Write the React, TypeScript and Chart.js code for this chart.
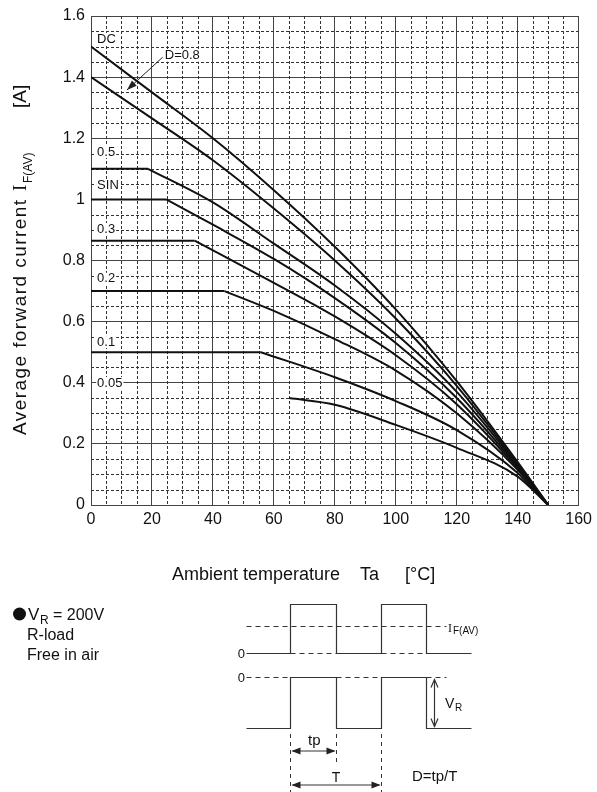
import React, { useEffect, useRef } from 'react';
import { Chart, registerables } from 'chart.js';

Chart.register(...registerables);

// ---- axis tick labels ----
const xTickLabels = ['0', '20', '40', '60', '80', '100', '120', '140', '160'];
const yTickLabels = ['0', '0.2', '0.4', '0.6', '0.8', '1', '1.2', '1.4', '1.6'];

// ---- series (Ta in °C, IF(AV) in A) ----
const tDC = [0, 20, 40, 60, 80, 100, 120, 140, 150];
const iDC = [1.5, 1.35, 1.2, 1.03, 0.845, 0.64, 0.405, 0.14, 0];

const tD08 = [0, 20, 40, 60, 80, 100, 120, 140, 150];
const iD08 = [1.4, 1.265, 1.128, 0.97, 0.8, 0.61, 0.39, 0.135, 0];

const tD05 = [0, 18.7, 40, 60, 80, 100, 120, 140, 150];
const iD05 = [1.1, 1.1, 0.99, 0.855, 0.718, 0.56, 0.37, 0.13, 0];

const tSIN = [0, 24.7, 40, 60, 80, 100, 120, 140, 150];
const iSIN = [1.0, 1.0, 0.917, 0.805, 0.677, 0.53, 0.35, 0.125, 0];

const tD03 = [0, 34, 60, 80, 100, 120, 140, 150];
const iD03 = [0.865, 0.865, 0.727, 0.617, 0.49, 0.33, 0.12, 0];

const tD02 = [0, 43.8, 60, 80, 100, 120, 140, 150];
const iD02 = [0.7, 0.7, 0.635, 0.543, 0.44, 0.3, 0.115, 0];

const tD01 = [0, 55.7, 80, 100, 120, 140, 150];
const iD01 = [0.5, 0.5, 0.418, 0.34, 0.245, 0.105, 0];

const tD005 = [65, 80, 100, 120, 140, 150];
const iD005 = [0.35, 0.328, 0.262, 0.187, 0.093, 0];

// number of leading points forming the flat (derating-free) part of each curve
const flatDC = 0, flatD08 = 0, flatD05 = 2, flatSIN = 2, flatD03 = 2, flatD02 = 2, flatD01 = 2, flatD005 = 0;

// ---- curve labels (text, Ta, IF) ----
const labelTexts = ['DC', 'D=0.8', '0.5', 'SIN', '0.3', '0.2', '0.1', '0.05'];
const labelT = [2, 24.2, 2, 2, 2, 2, 2, 2];
const labelI = [1.525, 1.47, 1.155, 1.047, 0.903, 0.74, 0.533, 0.399];

// arrow from "D=0.8" label to its curve
const arrowFrom = [23.5, 1.465];
const arrowTo = [11.8, 1.358];

const SANS = '"Liberation Sans", Arial, Helvetica, sans-serif';
const SERIF = '"Liberation Serif", "Times New Roman", serif';

const zip = (t: number[], i: number[]) => t.map((x, k) => ({ x, y: i[k] }));

function fillArrowHead(ctx: CanvasRenderingContext2D, x: number, y: number, ang: number, len: number, half: number) {
  ctx.beginPath();
  ctx.moveTo(x, y);
  ctx.lineTo(x - len * Math.cos(ang) + half * Math.sin(ang), y - len * Math.sin(ang) - half * Math.cos(ang));
  ctx.lineTo(x - len * Math.cos(ang) - half * Math.sin(ang), y - len * Math.sin(ang) + half * Math.cos(ang));
  ctx.closePath();
  ctx.fill();
}

const minorGrid = {
  id: 'minorGrid',
  beforeDatasetsDraw(chart: any) {
    const { ctx, chartArea: a, scales } = chart;
    const x = scales.x, y = scales.y;
    ctx.save();
    ctx.strokeStyle = '#333';
    ctx.lineWidth = 1;
    ctx.setLineDash([3, 2]);
    for (let v = 5; v < 160; v += 5) {
      if (v % 20 === 0) continue;
      const px = Math.round(x.getPixelForValue(v)) + 0.5;
      ctx.beginPath();
      ctx.moveTo(px, a.top);
      ctx.lineTo(px, a.bottom);
      ctx.stroke();
    }
    for (let k = 1; k < 32; k++) {
      if (k % 4 === 0) continue;
      const py = Math.round(y.getPixelForValue(k * 0.05)) + 0.5;
      ctx.beginPath();
      ctx.moveTo(a.left, py);
      ctx.lineTo(a.right, py);
      ctx.stroke();
    }
    ctx.restore();
  },
};

const curveLabels = {
  id: 'curveLabels',
  afterDatasetsDraw(chart: any) {
    const { ctx, scales } = chart;
    const x = scales.x, y = scales.y;
    ctx.save();
    ctx.font = `13px ${SANS}`;
    ctx.textBaseline = 'middle';
    ctx.textAlign = 'left';
    labelTexts.forEach((txt, k) => {
      const px = x.getPixelForValue(labelT[k]);
      const py = y.getPixelForValue(labelI[k]);
      const w = ctx.measureText(txt).width;
      ctx.fillStyle = '#fff';
      ctx.fillRect(px - 1, py - 6, w + 2, 12);
      ctx.fillStyle = '#111';
      ctx.fillText(txt, px, py);
    });
    const ax0 = x.getPixelForValue(arrowFrom[0]);
    const ay0 = y.getPixelForValue(arrowFrom[1]);
    const ax1 = x.getPixelForValue(arrowTo[0]);
    const ay1 = y.getPixelForValue(arrowTo[1]);
    ctx.strokeStyle = '#222';
    ctx.fillStyle = '#222';
    ctx.lineWidth = 1;
    ctx.beginPath();
    ctx.moveTo(ax0, ay0);
    ctx.lineTo(ax1, ay1);
    ctx.stroke();
    fillArrowHead(ctx, ax1, ay1, Math.atan2(ay1 - ay0, ax1 - ax0), 10, 3.5);
    ctx.restore();
  },
};

const annotations = {
  id: 'annotations',
  afterDraw(chart: any) {
    const ctx: CanvasRenderingContext2D = chart.ctx;
    ctx.save();
    ctx.fillStyle = '#111';
    ctx.textAlign = 'left';
    ctx.textBaseline = 'alphabetic';

    // ---- y-axis title (rotated) ----
    ctx.save();
    ctx.translate(26, 435);
    ctx.rotate(-Math.PI / 2);
    ctx.font = `19px ${SANS}`;
    const main = 'Average forward current';
    const w = ctx.measureText(main).width;
    const anyCtx = ctx as any;
    if ('letterSpacing' in anyCtx) anyCtx.letterSpacing = `${Math.max(0, (235 - w) / (main.length - 1)).toFixed(2)}px`;
    ctx.fillText(main, 0, 0);
    if ('letterSpacing' in anyCtx) anyCtx.letterSpacing = '0px';
    ctx.font = `19px ${SERIF}`;
    ctx.fillText('I', 244, 0);
    ctx.font = `12px ${SANS}`;
    ctx.fillText('F(AV)', 252, 6);
    ctx.font = `19px ${SANS}`;
    ctx.fillText('[A]', 327, 0);
    ctx.restore();

    // ---- x-axis title ----
    ctx.font = `18px ${SANS}`;
    ctx.fillText('Ambient temperature', 172, 580);
    ctx.fillText('Ta', 360, 580);
    ctx.fillText('[°C]', 405, 580);

    // ---- conditions ----
    ctx.beginPath();
    ctx.arc(19.5, 614, 6.5, 0, Math.PI * 2);
    ctx.fill();
    ctx.font = `17px ${SANS}`;
    ctx.fillText('V', 28, 620);
    ctx.font = `12px ${SANS}`;
    ctx.fillText('R', 40, 624);
    ctx.font = `16px ${SANS}`;
    ctx.fillText('= 200V', 53, 620);
    ctx.fillText('R-load', 27, 640);
    ctx.fillText('Free in air', 27, 660);

    // ---- waveform diagram ----
    const x0 = 246.5, x1 = 290.5, x2 = 336.5, x3 = 381.5, x4 = 426.5, x5 = 471.5, xd = 446.5;
    const iHigh = 604.5, iBase = 653.5, iAvg = 626.5, vZero = 677.5, vLow = 728.5;
    ctx.strokeStyle = '#333';
    ctx.lineWidth = 1.2;
    const poly = (pts: number[][]) => {
      ctx.beginPath();
      ctx.moveTo(pts[0][0], pts[0][1]);
      for (let k = 1; k < pts.length; k++) ctx.lineTo(pts[k][0], pts[k][1]);
      ctx.stroke();
    };
    ctx.setLineDash([]);
    poly([[x0, iBase], [x1, iBase], [x1, iHigh], [x2, iHigh], [x2, iBase], [x3, iBase], [x3, iHigh], [x4, iHigh], [x4, iBase], [x5, iBase]]);
    poly([[x0, vLow], [x1, vLow], [x1, vZero], [x2, vZero], [x2, vLow], [x3, vLow], [x3, vZero], [x4, vZero], [x4, vLow], [x5, vLow]]);
    ctx.setLineDash([5, 4]);
    poly([[x0, iAvg], [xd, iAvg]]);
    poly([[x1, iBase], [x2, iBase]]);
    poly([[x3, iBase], [x4, iBase]]);
    poly([[x0, vZero], [x1, vZero]]);
    poly([[x2, vZero], [x3, vZero]]);
    poly([[x4, vZero], [xd, vZero]]);
    ctx.setLineDash([4, 4]);
    ctx.lineWidth = 1;
    poly([[x1, 734], [x1, 792]]);
    poly([[x2, 734], [x2, 766]]);
    poly([[x3, 734], [x3, 792]]);
    ctx.setLineDash([]);
    ctx.lineWidth = 1.2;
    ctx.fillStyle = '#222';
    poly([[x1 + 2, 751], [x2 - 2, 751]]);
    fillArrowHead(ctx, x1 + 1, 751, Math.PI, 9, 3.5);
    fillArrowHead(ctx, x2 - 1, 751, 0, 9, 3.5);
    poly([[x1 + 2, 785], [x3 - 2, 785]]);
    fillArrowHead(ctx, x1 + 1, 785, Math.PI, 9, 3.5);
    fillArrowHead(ctx, x3 - 1, 785, 0, 9, 3.5);
    const xv = 434.5;
    poly([[xv, vZero + 2], [xv, vLow - 2]]);
    poly([[xv - 3.5, vZero + 10], [xv, vZero + 2], [xv + 3.5, vZero + 10]]);
    poly([[xv - 3.5, vLow - 10], [xv, vLow - 2], [xv + 3.5, vLow - 10]]);

    ctx.fillStyle = '#111';
    ctx.font = `13px ${SANS}`;
    ctx.textAlign = 'right';
    ctx.fillText('0', 245, 658);
    ctx.fillText('0', 245, 682);
    ctx.textAlign = 'left';
    ctx.font = `12px ${SERIF}`;
    ctx.fillText('I', 448, 632);
    ctx.font = `10px ${SANS}`;
    ctx.fillText('F(AV)', 453, 634);
    ctx.font = `14px ${SANS}`;
    ctx.fillText('V', 445, 708);
    ctx.font = `10px ${SANS}`;
    ctx.fillText('R', 455, 711);
    ctx.font = `15px ${SANS}`;
    ctx.fillText('tp', 308, 745);
    ctx.textAlign = 'center';
    ctx.font = `14px ${SANS}`;
    ctx.fillText('T', 336, 782);
    ctx.textAlign = 'left';
    ctx.font = `15px ${SANS}`;
    ctx.fillText('D=tp/T', 412, 781);

    ctx.restore();
  },
};

export default function App() {
  const canvasRef = useRef<HTMLCanvasElement | null>(null);

  useEffect(() => {
    const canvas = canvasRef.current;
    if (!canvas) return;
    const base = { borderColor: '#111', borderWidth: 2, pointRadius: 0, fill: false };
    // each curve: a straight flat part (if any) and a smooth derating part
    const series = (t: number[], i: number[], flat: number, label: string) => {
      const out: any[] = [];
      if (flat >= 2) {
        out.push({ ...base, label: label + ' flat', data: zip(t.slice(0, flat), i.slice(0, flat)), tension: 0 });
      }
      const s = Math.max(0, flat - 1);
      out.push({ ...base, label, data: zip(t.slice(s), i.slice(s)), cubicInterpolationMode: 'monotone' });
      return out;
    };
    const chart = new Chart(canvas, {
      type: 'line',
      data: {
        datasets: [
          ...series(tDC, iDC, flatDC, 'DC'),
          ...series(tD08, iD08, flatD08, 'D=0.8'),
          ...series(tD05, iD05, flatD05, '0.5'),
          ...series(tSIN, iSIN, flatSIN, 'SIN'),
          ...series(tD03, iD03, flatD03, '0.3'),
          ...series(tD02, iD02, flatD02, '0.2'),
          ...series(tD01, iD01, flatD01, '0.1'),
          ...series(tD005, iD005, flatD005, '0.05'),
        ],
      },
      options: {
        animation: false,
        responsive: false,
        devicePixelRatio: 1,
        events: [],
        layout: { padding: { left: 0, right: 16, top: 16, bottom: 0 } },
        plugins: { legend: { display: false }, tooltip: { enabled: false }, title: { display: false } },
        scales: {
          x: {
            type: 'linear',
            min: 0,
            max: 160,
            afterFit: (s: any) => { s.height = 287; },
            ticks: {
              stepSize: 20,
              padding: 5,
              color: '#111',
              font: { family: SANS, size: 16 },
              maxRotation: 0,
              callback: (v: any) => xTickLabels[Math.round(Number(v) / 20)] ?? '',
            },
            grid: { color: '#444', lineWidth: 1, drawTicks: false },
            border: { color: '#444', width: 1 },
          },
          y: {
            type: 'linear',
            min: 0,
            max: 1.6,
            afterFit: (s: any) => { s.width = 91; },
            ticks: {
              stepSize: 0.2,
              padding: 6,
              color: '#111',
              font: { family: SANS, size: 16 },
              callback: (v: any) => yTickLabels[Math.round(Number(v) / 0.2)] ?? '',
            },
            grid: { color: '#444', lineWidth: 1, drawTicks: false },
            border: { color: '#444', width: 1 },
          },
        },
      },
      plugins: [minorGrid, curveLabels, annotations],
    } as any);
    return () => chart.destroy();
  }, []);

  return (
    <div style={{ position: 'absolute', left: 0, top: 0, width: 597, height: 792, background: '#fff' }}>
      <canvas ref={canvasRef} width={597} height={792} style={{ display: 'block', width: 597, height: 792 }} />
    </div>
  );
}
